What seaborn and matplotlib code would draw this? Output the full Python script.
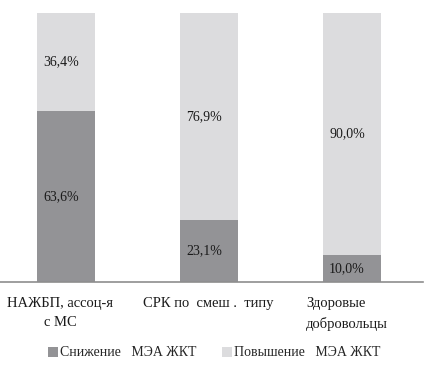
import matplotlib
matplotlib.use("Agg")
import matplotlib.pyplot as plt
import matplotlib.transforms as mtransforms
from matplotlib.patches import Patch
import seaborn as sns
import pandas as pd

categories = ["НАЖБП, ассоц-я\nс МС", "СРК по  смеш .  типу", "Здоровые\nдобровольцы"]
decrease = [63.6, 23.1, 10.0]
increase = [36.4, 76.9, 90.0]
series_names = ["Снижение   МЭА ЖКТ", "Повышение   МЭА ЖКТ"]

dark = "#939396"
light = "#dcdcde"
axis_grey = "#8e8e8e"

sns.set_theme(style="white")
plt.rcParams["font.family"] = ["Liberation Serif", "DejaVu Serif"]

df = pd.DataFrame({"cat": categories, "dec": decrease, "inc": increase})
df["total"] = df["dec"] + df["inc"]

fig = plt.figure(figsize=(4.28, 3.67), dpi=100)
ax = fig.add_axes([-5.5 / 428, 1 - 282 / 367, 429 / 428, 269 / 367])

sns.barplot(data=df, x="cat", y="total", color=light, saturation=1, width=0.4, ax=ax, linewidth=0)
sns.barplot(data=df, x="cat", y="dec", color=dark, saturation=1, width=0.4, ax=ax, linewidth=0)

ax.set_xlim(-0.5, 2.5)
ax.set_ylim(0, 100)
ax.set_xlabel("")
ax.set_ylabel("")
ax.set_yticks([])

for i, (d, u) in enumerate(zip(decrease, increase)):
    xl = i - 0.2 + 0.04
    ax.text(xl, d / 2, f"{d:.1f}%".replace(".", ","), ha="left", va="center",
            fontsize=10, color="#1a1a1a")
    ax.text(xl, d + u / 2, f"{u:.1f}%".replace(".", ","), ha="left", va="center",
            fontsize=10, color="#1a1a1a")

for s in ["top", "left", "right"]:
    ax.spines[s].set_visible(False)
ax.spines["bottom"].set_color(axis_grey)
ax.spines["bottom"].set_linewidth(1.2)

ax.set_xticks([0, 1, 2])
ax.set_xticklabels(categories, fontsize=10.5, color="#1a1a1a", linespacing=1.6)
ax.tick_params(axis="x", which="major", length=0, pad=11)
ax.set_xticks([-0.5, 0.5, 1.5, 2.5], minor=True)
ax.tick_params(axis="x", which="minor", length=5, color=axis_grey, width=1.2, direction="out")

offsets = [-6, -1, -5]
for lab, dx in zip(ax.get_xticklabels(), offsets):
    lab.set_transform(lab.get_transform() + mtransforms.ScaledTranslation(dx / 100, 0, fig.dpi_scale_trans))
labs = ax.get_xticklabels()
labs[2].set_multialignment("left")

handles = [Patch(facecolor=dark, edgecolor="none"), Patch(facecolor=light, edgecolor="none")]
fig.legend(handles, series_names, loc="center", bbox_to_anchor=(0.5, 1 - 353 / 367),
           ncol=2, frameon=False, fontsize=10, handlelength=0.75, handleheight=0.75,
           handletextpad=0.15, columnspacing=1.8)

fig.savefig("out.png", dpi=100)
